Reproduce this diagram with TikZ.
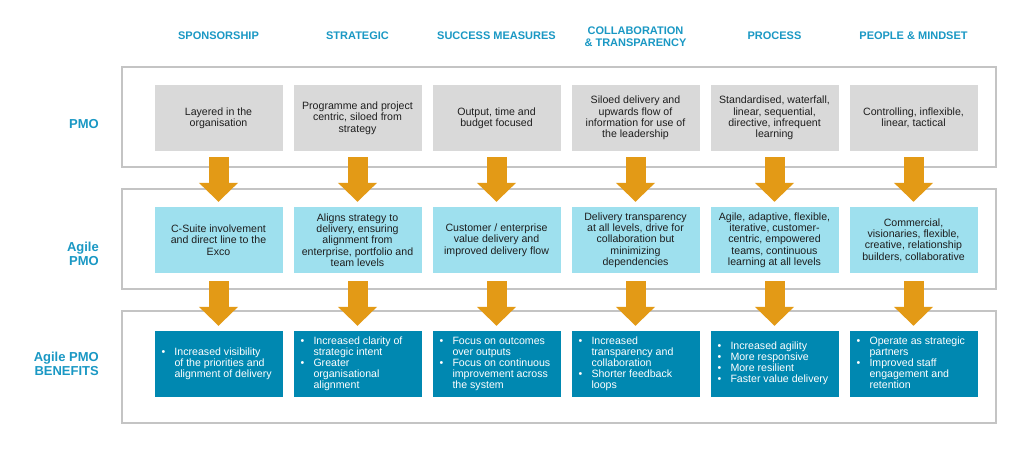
\documentclass[tikz,border=0pt]{standalone}
\usepackage{fontspec}
\setmainfont{Liberation Sans}
\usetikzlibrary{arrows.meta,calc}
\definecolor{hdrblue}{RGB}{26,152,196}
\definecolor{pmogray}{RGB}{217,217,217}
\definecolor{agilecyan}{RGB}{158,224,238}
\definecolor{benefitblue}{RGB}{0,136,177}
\definecolor{arroworange}{RGB}{227,154,22}
\definecolor{framegray}{RGB}{196,196,196}
\definecolor{bodytext}{RGB}{30,30,30}
\newcommand{\blist}[1]{{\renewcommand{\arraystretch}{1}\begin{tabular}{@{}p{13pt}@{}l@{}}#1\end{tabular}}}
\begin{document}
\begin{tikzpicture}[x=1pt,y=-1pt,
  frame/.style={draw=framegray,line width=1.6pt},
  cell/.style={minimum width=128pt,minimum height=66pt,inner sep=0pt,align=center,
    font=\fontsize{10.6}{11.3}\selectfont,text=bodytext},
  pmocell/.style={cell,fill=pmogray},
  agilecell/.style={cell,fill=agilecyan},
  benefitcell/.style={cell,fill=benefitblue},
  benefittext/.style={anchor=west,inner sep=0pt,text=white,font=\fontsize{10.6}{11.1}\selectfont},
  header/.style={text=hdrblue,font=\fontsize{11}{12}\selectfont\bfseries,align=center},
  rowlabel/.style={text=hdrblue,font=\fontsize{13}{14}\selectfont\bfseries,align=right,anchor=east,inner sep=0pt},
  flowarrow/.style={draw=arroworange,line width=20pt,-{Triangle[width=38pt,length=19pt]}}
]
\useasboundingbox (0,0) rectangle (1024,448);
\fill[white] (0,0) rectangle (1024,448);

% outer frames
\draw[frame] (122,67) rectangle (996,167);
\draw[frame] (122,189) rectangle (996,289);
\draw[frame] (122,311) rectangle (996,423);

% headers
\node[header] (h1) at (218.5,36) {SPONSORSHIP};
\node[header] (h2) at (357.5,36) {STRATEGIC};
\node[header] (h3) at (496.5,36) {SUCCESS MEASURES};
\node[header] (h4) at (635.5,37) {COLLABORATION\\\& TRANSPARENCY};
\node[header] (h5) at (774.5,36) {PROCESS};
\node[header] (h6) at (913.5,36) {PEOPLE \& MINDSET};

% row labels
\node[rowlabel] (l1) at (99,124) {PMO};
\node[rowlabel] (l2) at (99,254) {Agile\\PMO};
\node[rowlabel] (l3) at (99,364) {Agile PMO\\BENEFITS};

% PMO row
\node[pmocell] (p1) at (218.5,118) {Layered in the\\organisation};
\node[pmocell] (p2) at (357.5,118) {Programme and project\\centric, siloed from\\strategy};
\node[pmocell] (p3) at (496.5,118) {Output, time and\\budget focused};
\node[pmocell] (p4) at (635.5,118) {Siloed delivery and\\upwards flow of\\information for use of\\the leadership};
\node[pmocell] (p5) at (774.5,118) {Standardised, waterfall,\\linear, sequential,\\directive, infrequent\\learning};
\node[pmocell] (p6) at (913.5,118) {Controlling, inflexible,\\linear, tactical};

% Agile row
\node[agilecell] (a1) at (218.5,240) {C-Suite involvement\\and direct line to the\\Exco};
\node[agilecell] (a2) at (357.5,240) {Aligns strategy to\\delivery, ensuring\\alignment from\\enterprise, portfolio and\\team levels};
\node[agilecell] (a3) at (496.5,240) {Customer / enterprise\\value delivery and\\improved delivery flow};
\node[agilecell] (a4) at (635.5,240) {Delivery transparency\\at all levels, drive for\\collaboration but\\minimizing\\dependencies};
\node[agilecell] (a5) at (774.5,240) {Agile, adaptive, flexible,\\iterative, customer-\\centric, empowered\\teams, continuous\\learning at all levels};
\node[agilecell] (a6) at (913.5,240) {Commercial,\\visionaries, flexible,\\creative, relationship\\builders, collaborative};

% Benefits row
\foreach \i/\x in {1/218.5,2/357.5,3/496.5,4/635.5,5/774.5,6/913.5}
  \node[benefitcell] (b\i) at (\x,364) {};
\node[benefittext] (t1) at ($(b1.west)+(7,0)$) {\blist{•&Increased visibility\\&of the priorities and\\&alignment of delivery}};
\node[benefittext] (t2) at ($(b2.west)+(7,0)$) {\blist{•&Increased clarity of\\&strategic intent\\•&Greater\\&organisational\\&alignment}};
\node[benefittext] (t3) at ($(b3.west)+(7,0)$) {\blist{•&Focus on outcomes\\&over outputs\\•&Focus on continuous\\&improvement across\\&the system}};
\node[benefittext] (t4) at ($(b4.west)+(7,0)$) {\blist{•&Increased\\&transparency and\\&collaboration\\•&Shorter feedback\\&loops}};
\node[benefittext] (t5) at ($(b5.west)+(7,0)$) {\blist{•&Increased agility\\•&More responsive\\•&More resilient\\•&Faster value delivery}};
\node[benefittext] (t6) at ($(b6.west)+(7,0)$) {\blist{•&Operate as strategic\\&partners\\•&Improved staff\\&engagement and\\&retention}};

% arrows
\foreach \i in {1,...,6}{
  \draw[flowarrow] ($(p\i.south)+(0,6)$) -- ($(a\i.north)+(0,-5)$);
  \draw[flowarrow] ($(a\i.south)+(0,8)$) -- ($(b\i.north)+(0,-5)$);
}
\end{tikzpicture}
\end{document}
